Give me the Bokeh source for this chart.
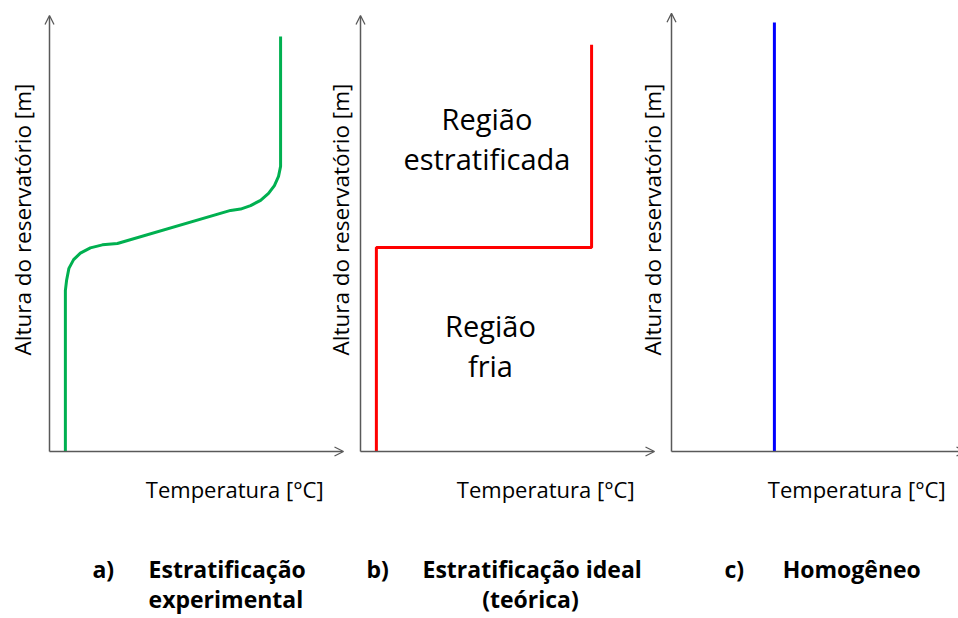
import math
from bokeh.plotting import figure
from bokeh.models import Range1d, Arrow, OpenHead, Label
from bokeh.embed import file_html
from bokeh.resources import INLINE

# ---- data (temperature / height in % of axis length) ----
exp_T = [5.4, 5.4, 5.8, 6.6, 8.2, 10.5, 13.9, 18.0, 23.1, 61.6, 65.0, 68.4, 71.8, 74.5, 76.5, 77.9, 78.6, 78.6, 78.6]
exp_h = [0, 36.9, 39.2, 42.0, 44.0, 45.5, 46.7, 47.4, 47.7, 55.3, 55.6, 56.4, 57.6, 59.2, 61.0, 63.1, 65.4, 66.7, 95.2]
ideal_T = [5.4, 5.4, 78.6, 78.6]
ideal_h = [0, 46.8, 46.8, 93.3]
homo_T = [35.0, 35.0]
homo_h = [0, 98.4]

ylabel = "Altura do reservatório [m]"
xlabel = "Temperatura [°C]"
captions = [("a)", "Estratificação", "experimental"),
            ("b)", "Estratificação ideal", "(teórica)"),
            ("c)", "Homogêneo", "")]

W, H = 958, 618
PX_T = 2.94   # px per unit on x
PX_H = 4.36   # px per unit on y
axis_x = {"a": 49, "b": 360, "c": 671}   # frame pixel of the origin
origin_y = 451                            # from top of frame

def xr(name):
    x0 = axis_x[name]
    return Range1d(-x0 / PX_T, (W - x0) / PX_T)

p = figure(width=W, height=H, output_backend="svg", toolbar_location=None,
           x_axis_type=None, y_axis_type=None, min_border=0,
           x_range=xr("a"),
           y_range=Range1d(-(H - origin_y) / PX_H, origin_y / PX_H))
p.extra_x_ranges = {"a": xr("a"), "b": xr("b"), "c": xr("c")}
p.grid.visible = False
p.outline_line_color = None
p.background_fill_color = "white"
p.border_fill_color = "white"

AX = "#595959"
for name in ["a", "b", "c"]:
    top = 100.5 if name == "c" else 100
    p.add_layout(Arrow(end=OpenHead(size=9, line_color=AX, line_width=1.3),
                       x_start=0, y_start=0, x_end=0, y_end=top,
                       x_range_name=name, line_color=AX, line_width=1.5))
    p.add_layout(Arrow(end=OpenHead(size=9, line_color=AX, line_width=1.3),
                       x_start=0, y_start=0, x_end=100, y_end=0,
                       x_range_name=name, line_color=AX, line_width=1.5))

p.line(exp_T, exp_h, x_range_name="a", line_color="#00B050", line_width=3, line_join="round")
p.line(ideal_T, ideal_h, x_range_name="b", line_color="#FF0000", line_width=3)
p.line(homo_T, homo_h, x_range_name="c", line_color="#0000FF", line_width=3)

FONT = "Open Sans"
ylab_x = {"a": -9.2, "b": -6.8, "c": -6.5}
for name in ["a", "b", "c"]:
    p.add_layout(Label(x=ylab_x[name], y=53.2, x_range_name=name, text=ylabel,
                       angle=math.pi / 2, text_align="center", text_baseline="middle",
                       text_font=FONT, text_font_size="22.5px", text_color="black"))
    p.add_layout(Label(x=63.0, y=-8.5, x_range_name=name, text=xlabel,
                       text_align="center", text_baseline="alphabetic",
                       text_font=FONT, text_font_size="22px", text_color="black"))

# region texts in panel b
for txt, tx, ty in [("Região", 43.0, 76.3), ("estratificada", 43.0, 67.1),
                    ("Região", 44.2, 28.8), ("fria", 44.2, 19.7)]:
    p.add_layout(Label(x=tx, y=ty, x_range_name="b", text=txt,
                       text_align="center", text_baseline="alphabetic",
                       text_font=FONT, text_font_size="29px", text_color="black"))

cap_pos = {"a": (14.6, 33.7, 33.7, "left"),
           "b": (2.0, 21.1, 57.8, "center"),
           "c": (18.0, 37.8, 37.8, "left")}
CAP = dict(text_font=FONT, text_font_style="bold", text_font_size="23px",
           text_color="black", text_baseline="alphabetic")
for (name, (lx, t1x, t2x, a2)), (lab, t1, t2) in zip(cap_pos.items(), captions):
    p.add_layout(Label(x=lx, y=-26.9, x_range_name=name, text=lab, text_align="left", **CAP))
    p.add_layout(Label(x=t1x, y=-26.9, x_range_name=name, text=t1, text_align="left", **CAP))
    if t2:
        p.add_layout(Label(x=t2x, y=-33.9, x_range_name=name, text=t2, text_align=a2, **CAP))

open("out.html", "w").write(file_html(p, INLINE))
